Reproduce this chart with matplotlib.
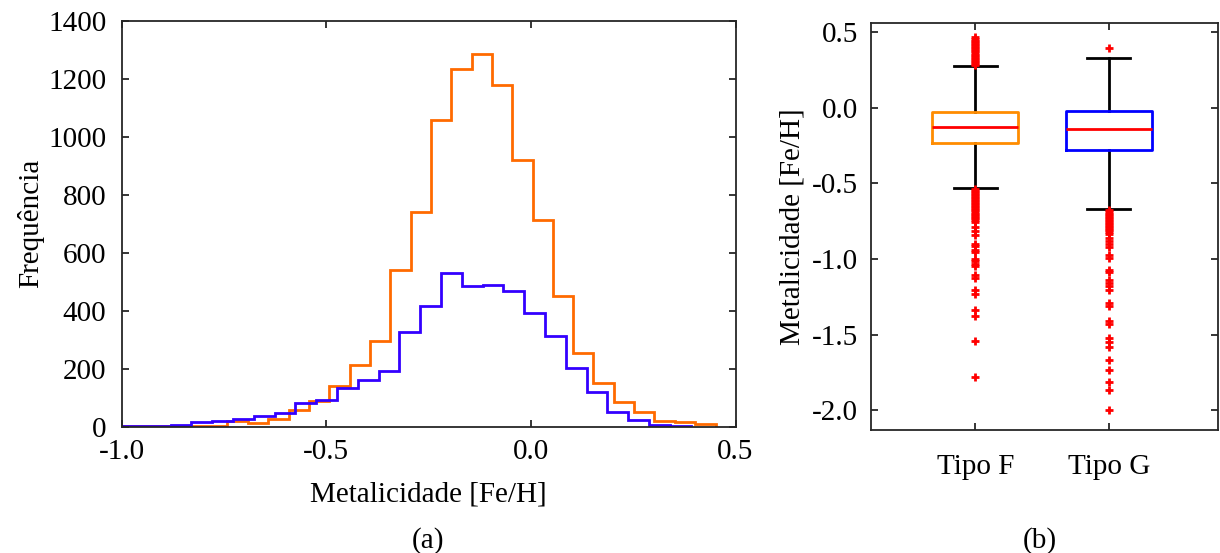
import numpy as np
import matplotlib
matplotlib.use("Agg")
import matplotlib.pyplot as plt

plt.rcParams['font.family'] = ['Liberation Serif', 'DejaVu Serif']
plt.rcParams['font.size'] = 21
plt.rcParams['axes.unicode_minus'] = False

# (a) histogramas - bordas das classes e frequências
bordas_f = [-1.040, -0.990, -0.940, -0.891, -0.841, -0.791, -0.742, -0.692, -0.642,
            -0.592, -0.543, -0.493, -0.443, -0.394, -0.344, -0.294, -0.244, -0.195,
            -0.145, -0.095, -0.046, 0.004, 0.054, 0.104, 0.153, 0.203, 0.253, 0.302,
            0.352, 0.402, 0.452]
freq_f = [1, 1, 2, 2, 3, 3, 19, 14, 26, 57, 89, 140, 213, 296, 540, 739, 1057, 1234,
          1286, 1178, 918, 713, 452, 253, 150, 86, 52, 18, 16, 9]

bordas_g = [-1.033, -0.982, -0.931, -0.880, -0.830, -0.779, -0.728, -0.677, -0.626,
            -0.576, -0.525, -0.474, -0.423, -0.372, -0.322, -0.271, -0.220, -0.169,
            -0.118, -0.068, -0.017, 0.034, 0.085, 0.136, 0.186, 0.237, 0.288, 0.339,
            0.390]
freq_g = [1, 2, 3, 5, 16, 18, 28, 37, 47, 80, 91, 135, 161, 193, 325, 417, 529, 485,
          488, 467, 393, 312, 201, 121, 52, 23, 5, 1]

# (b) boxplots
tipos = ["Tipo F", "Tipo G"]
mediana = [-0.128, -0.139]
q1 = [-0.232, -0.282]
q3 = [-0.029, -0.020]
bigode_inf = [-0.529, -0.672]
bigode_sup = [0.272, 0.330]
outliers_f = [0.28, 0.29, 0.30, 0.31, 0.32, 0.33, 0.34, 0.35, 0.36, 0.37, 0.38, 0.39,
              0.40, 0.41, 0.42, 0.43, 0.44, 0.45, 0.467,
              -0.54, -0.55, -0.56, -0.57, -0.58, -0.59, -0.60, -0.61, -0.62, -0.63,
              -0.64, -0.65, -0.66, -0.67, -0.68, -0.69, -0.70, -0.71, -0.72, -0.73,
              -0.74, -0.756, -0.789, -0.818, -0.844, -0.899, -0.917, -0.939, -0.954,
              -0.998, -1.014, -1.031, -1.049, -1.108, -1.124, -1.208, -1.230, -1.335,
              -1.379, -1.543, -1.781]
outliers_g = [0.390,
              -0.68, -0.69, -0.70, -0.71, -0.72, -0.73, -0.74, -0.75, -0.76, -0.77,
              -0.78, -0.79, -0.80, -0.81, -0.82, -0.833, -0.86, -0.88, -0.90, -0.92,
              -0.976, -0.991, -1.071, -1.087, -1.141, -1.159, -1.181, -1.208, -1.291,
              -1.313, -1.410, -1.432, -1.520, -1.549, -1.582, -1.670, -1.732, -1.814,
              -1.864, -2.001]

cor_spine = '#262626'

fig = plt.figure(figsize=(12.2, 5.53), dpi=100)

# ---- (a)
ax1 = fig.add_axes([0.0996, 0.2284, 0.5033, 0.7342])
ax1.stairs(freq_f, bordas_f, color='#FF6A00', lw=2)
ax1.stairs(freq_g, bordas_g, color='#3300FF', lw=2)
ax1.set_xlim(-1.0, 0.5)
ax1.set_ylim(0, 1400)
ax1.set_xticks([-1.0, -0.5, 0.0, 0.5])
ax1.set_xticklabels(["-1.0", "-0.5", "0.0", "0.5"])
ax1.set_yticks(range(0, 1401, 200))
ax1.set_xlabel("Metalicidade [Fe/H]", labelpad=12)
ax1.set_ylabel("Frequência", labelpad=3)

# ---- (b)
ax2 = fig.add_axes([0.7137, 0.2224, 0.2844, 0.7365])
stats = []
fliers = [outliers_f, outliers_g]
for i in range(2):
    stats.append(dict(med=mediana[i], q1=q1[i], q3=q3[i], whislo=bigode_inf[i],
                      whishi=bigode_sup[i], fliers=fliers[i], label=tipos[i]))
bp = ax2.bxp(stats, positions=[1, 2], widths=0.645, capwidths=0.32,
             boxprops=dict(lw=2),
             whiskerprops=dict(color='black', lw=2),
             capprops=dict(color='black', lw=2),
             medianprops=dict(color='red', lw=2),
             flierprops=dict(marker='+', markeredgecolor='red', markersize=6,
                             markeredgewidth=2, linestyle='none'))
bp['boxes'][0].set_color('#FF8C00')
bp['boxes'][1].set_color('#0000FF')
for w in bp['whiskers']:
    w.set_zorder(1)
ax2.set_xlim(0.216, 2.817)
ax2.set_ylim(-2.13, 0.56)
ax2.set_yticks([0.5, 0.0, -0.5, -1.0, -1.5, -2.0])
ax2.set_yticklabels(["0.5", "0.0", "-0.5", "-1.0", "-1.5", "-2.0"])
ax2.set_ylabel("Metalicidade [Fe/H]", labelpad=5)

for ax in (ax1, ax2):
    for s in ax.spines.values():
        s.set_color(cor_spine)
        s.set_linewidth(1.3)
    ax.tick_params(direction='in', length=5, width=1.3, color=cor_spine,
                   top=True, right=True, labelsize=21)
ax1.tick_params(axis='x', pad=9)
ax1.tick_params(axis='y', pad=11)
ax2.tick_params(axis='y', pad=9)
ax2.tick_params(axis='x', pad=17)

fig.text(0.351, 0.022, "(a)", ha='center', va='center', fontsize=21)
fig.text(0.852, 0.022, "(b)", ha='center', va='center', fontsize=21)

fig.savefig("out.png", dpi=100)
